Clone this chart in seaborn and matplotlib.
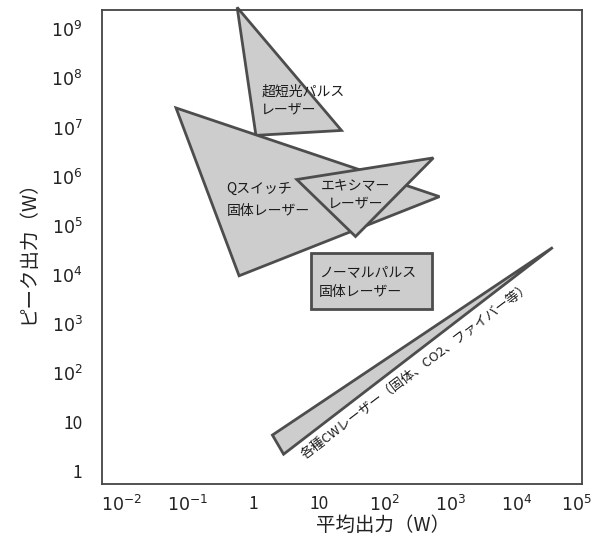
import matplotlib
matplotlib.use("Agg")
import matplotlib.pyplot as plt
import matplotlib.transforms as mtransforms
import seaborn as sns

# polygon vertices (average power W, peak power W)
ultrashort_x = [0.57, 1.1, 22]
ultrashort_y = [2.8e9, 6.9e6, 8.7e6]

qswitch_x = [0.067, 680, 0.61]
qswitch_y = [2.5e7, 3.9e5, 9.5e3]

excimer_x = [4.6, 550, 36]
excimer_y = [8.7e5, 2.4e6, 6.0e4]

normal_x = [7.5, 515, 515, 7.5]
normal_y = [2.8e4, 2.8e4, 2.0e3, 2.0e3]

cw_x = [1.96, 3.6e4, 2.9]
cw_y = [5.4, 3.6e4, 2.2]

xticks = [1e-2, 1e-1, 1, 10, 1e2, 1e3, 1e4, 1e5]
xticklabels = [r"$10^{-2}$", r"$10^{-1}$", "1", "10", r"$10^{2}$", r"$10^{3}$", r"$10^{4}$", r"$10^{5}$"]
yticks = [1, 10, 1e2, 1e3, 1e4, 1e5, 1e6, 1e7, 1e8, 1e9]
yticklabels = ["1", "10", r"$10^{2}$", r"$10^{3}$", r"$10^{4}$", r"$10^{5}$",
               r"$10^{6}$", r"$10^{7}$", r"$10^{8}$", r"$10^{9}$"]

sns.set_theme(style="white")
plt.rcParams["font.family"] = ["Noto Sans CJK JP", "DejaVu Sans"]
plt.rcParams["mathtext.fontset"] = "dejavusans"

fig = plt.figure(figsize=(5.94, 5.36), dpi=100)
ax = fig.add_axes([0.1717, 0.097, 0.808, 0.884])
ax.set_xscale("log")
ax.set_yscale("log")
ax.set_xlim(10 ** -2.3, 1e5)
ax.set_ylim(10 ** -0.265, 10 ** 9.39)

face = "#cdcdcd"
edge = "#4d4d4d"
for xs, ys in [(ultrashort_x, ultrashort_y), (qswitch_x, qswitch_y),
               (excimer_x, excimer_y), (normal_x, normal_y), (cw_x, cw_y)]:
    ax.fill(xs, ys, facecolor=face, edgecolor=edge, linewidth=2, clip_on=False)

tc = "#1a1a1a"
ax.text(1.32, 3.5e7, "超短光パルス\nレーザー", fontsize=10, color=tc, va="center", ha="left",
        linespacing=1.3)
ax.text(0.39, 3.3e5, "Qスイッチ\n固体レーザー", fontsize=10, color=tc, va="center", ha="left",
        linespacing=1.7)
ax.text(36, 4.2e5, "エキシマー\nレーザー", fontsize=10, color=tc, va="center", ha="center",
        linespacing=1.3)
ax.text(10.1, 7.1e3, "ノーマルパルス\n固体レーザー", fontsize=10, color=tc, va="center", ha="left",
        linespacing=1.5)
ax.text(300, 112, "各種CWレーザー（固体、CO2、ファイバー等）", fontsize=9.5, color=tc,
        rotation=37, rotation_mode="anchor", ha="center", va="center")

ax.set_xticks(xticks)
ax.set_xticklabels(xticklabels)
ax.set_yticks(yticks)
ax.set_yticklabels(yticklabels)
ax.minorticks_off()
ax.tick_params(axis="both", direction="in", length=6, width=1.2, colors="#333333",
               labelsize=12.5, labelcolor="#222222")
ax.tick_params(axis="x", pad=8)
ax.tick_params(axis="y", pad=14)
ax.tick_params(axis="x", which="both", top=False)
ax.tick_params(axis="y", which="both", right=False)
last = ax.get_xticklabels()[-1]
last.set_transform(last.get_transform() + mtransforms.ScaledTranslation(-6 / 100, 0, fig.dpi_scale_trans))

for s in ax.spines.values():
    s.set_color("#444444")
    s.set_linewidth(1.3)

ax.set_xlabel("平均出力（W）", fontsize=14, color="#222222")
ax.set_ylabel("ピーク出力（W）", fontsize=14, color="#222222")
ax.xaxis.set_label_coords(0.585, -0.065)
ax.yaxis.set_label_coords(-0.133, 0.5)

fig.savefig("out.png", dpi=100)
